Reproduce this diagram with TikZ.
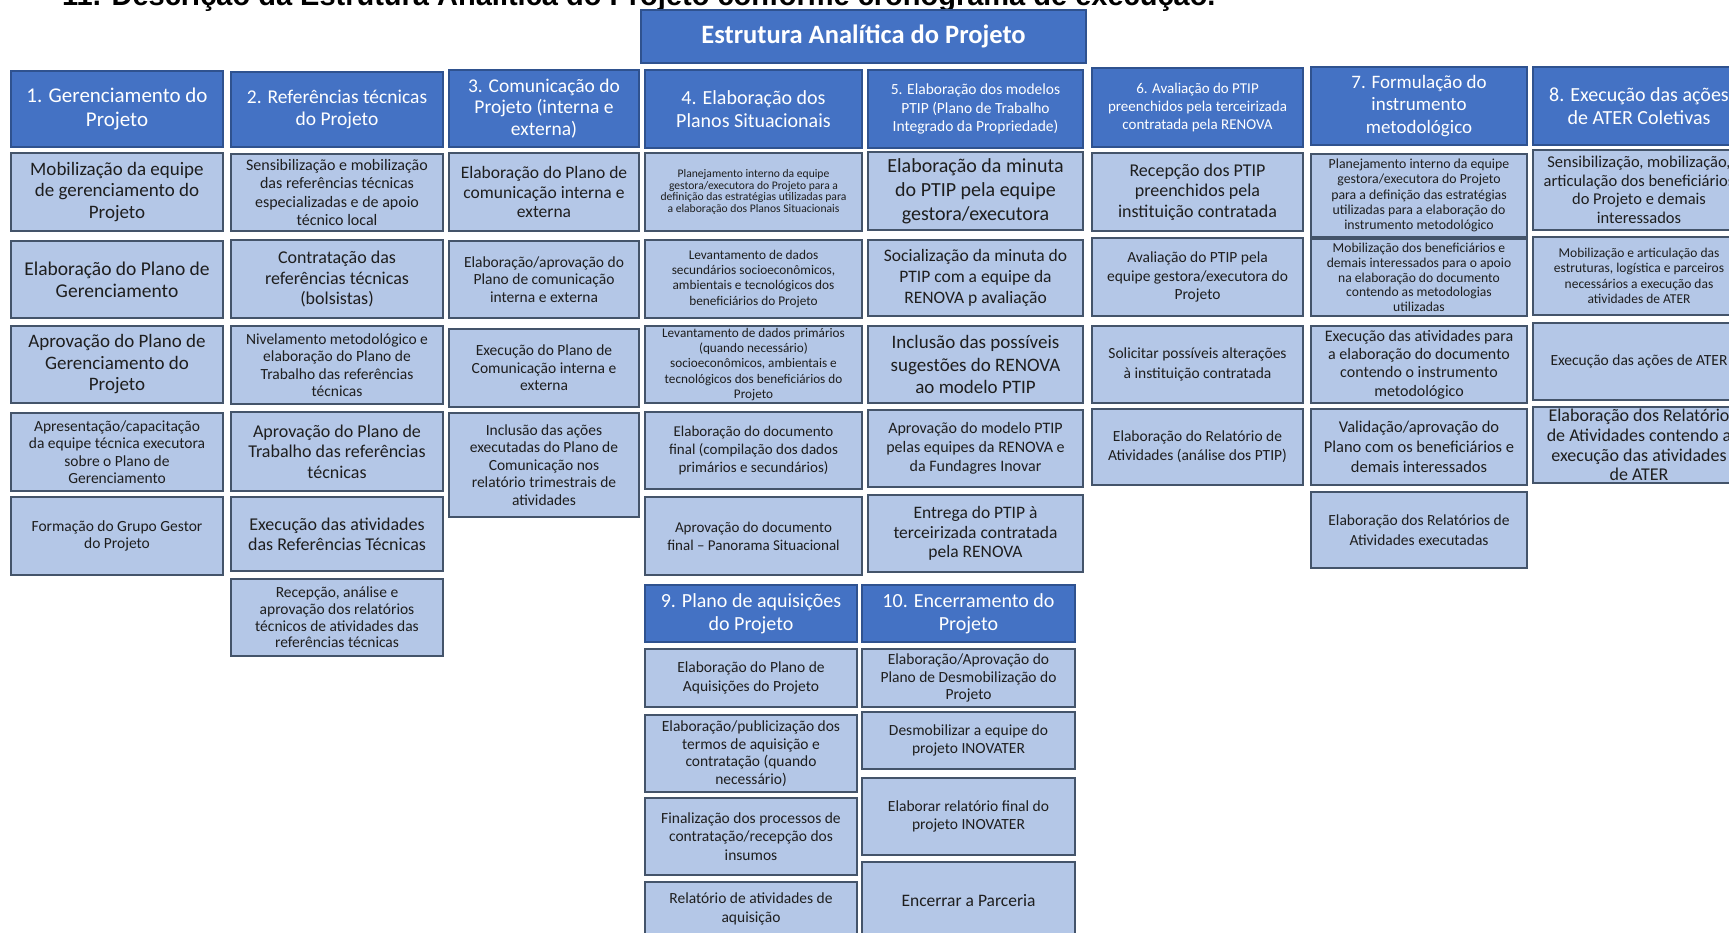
\documentclass[tikz,border=0pt]{standalone}
\usepackage{fontspec}
\setmainfont{Carlito}
\newfontfamily\captionfont{Liberation Sans}
\usepackage{xcolor}
\definecolor{hdrblue}{HTML}{4472C4}
\definecolor{hdredge}{HTML}{2F528F}
\definecolor{taskfill}{HTML}{B4C7E7}
\definecolor{taskedge}{HTML}{44546A}
\definecolor{taskink}{HTML}{1E1E1E}
\tikzstyle{header}=[draw=hdredge, fill=hdrblue, text=white, align=center, inner sep=0pt, line width=1.2pt]
\tikzstyle{task}=[draw=taskedge, fill=taskfill, text=taskink, align=center, inner sep=0pt, line width=1.2pt]
\tikzset{fs/.style={font=\linespread{\eapspread}\fontsize{#1}{#1}\selectfont},
	spread/.code={\def\eapspread{#1}}, spread=1.13}

\begin{document}
\begin{tikzpicture}[x=1pt, y=-1pt]
		\useasboundingbox (0,0) rectangle (1729,933);
		\fill[white] (0,0) rectangle (1729,933);
		\clip (0,0) rectangle (1729,933);
		\node[anchor=base west, inner sep=0pt, font=\captionfont\bfseries\fontsize{29}{29}\selectfont] (topline) at (62,6) {11. Descrição da Estrutura Analítica do Projeto conforme cronograma de execução.};
		\node[header, font=\bfseries\fontsize{26.5}{26.5}\selectfont, minimum width=445, minimum height=53] (eap) at (863.5,36.5) {Estrutura Analítica do Projeto};
		% 1. gerenciamento
		\begin{scope}[every node/.append style={minimum width=212}]
		\node[header, fs=21, minimum height=76] (ger0) at (117,109) {1. Gerenciamento do\\Projeto};
		\node[task, fs=19, minimum height=78] (ger1) at (117,192) {Mobilização da equipe\\de gerenciamento do\\Projeto};
		\node[task, fs=19.5, minimum height=77] (ger2) at (117,279.5) {Elaboração do Plano de\\Gerenciamento};
		\node[task, fs=19, minimum height=77] (ger3) at (117,364.5) {Aprovação do Plano de\\Gerenciamento do\\Projeto};
		\node[task, fs=15.5, minimum height=78] (ger4) at (117,452) {Apresentação/capacitação\\da equipe técnica executora\\sobre o Plano de\\Gerenciamento};
		\node[task, fs=15.5, minimum height=78] (ger5) at (117,536) {Formação do Grupo Gestor\\do Projeto};
		\end{scope}
		% 2. referencias tecnicas
		\begin{scope}[every node/.append style={minimum width=212}]
		\node[header, fs=19.5, minimum height=75] (ref0) at (337,109.5) {2. Referências técnicas\\do Projeto};
		\node[task, fs=16, minimum height=77] (ref1) at (337,192.5) {Sensibilização e mobilização\\das referências técnicas\\especializadas e de apoio\\técnico local};
		\node[task, fs=18, minimum height=78] (ref2) at (337,279) {Contratação das\\referências técnicas\\(bolsistas)};
		\node[task, fs=15.5, minimum height=78] (ref3) at (337,365) {Nivelamento metodológico e\\elaboração do Plano de\\Trabalho das referências\\técnicas};
		\node[task, fs=18, minimum height=79] (ref4) at (337,451.5) {Aprovação do Plano de\\Trabalho das referências\\técnicas};
		\node[task, fs=18, minimum height=74] (ref5) at (337,534) {Execução das atividades\\das Referências Técnicas};
		\node[task, fs=15.5, spread=1.08, minimum height=77] (ref6) at (337,617.5) {Recepção, análise e\\aprovação dos relatórios\\técnicos de atividades das\\referências técnicas};
		\end{scope}
		% 3. comunicacao
		\begin{scope}[every node/.append style={minimum width=190}]
		\node[header, fs=19.5, spread=1.1, minimum height=77] (com0) at (544,108.5) {3. Comunicação do\\Projeto (interna e\\externa)};
		\node[task, fs=17.5, minimum height=78] (com1) at (544,192) {Elaboração do Plano de\\comunicação interna e\\externa};
		\node[task, fs=15.5, minimum height=77] (com2) at (544,279.5) {Elaboração/aprovação do\\Plano de comunicação\\interna e externa};
		\node[task, fs=15.5, minimum height=78] (com3) at (544,368) {Execução do Plano de\\Comunicação interna e\\externa};
		\node[task, fs=15.5, minimum height=104] (com4) at (544,465) {Inclusão das ações\\executadas do Plano de\\Comunicação nos\\relatório trimestrais de\\atividades};
		\end{scope}
		% 4. planos situacionais
		\begin{scope}[every node/.append style={minimum width=217}]
		\node[header, fs=20, minimum height=78] (sit0) at (753.5,109) {4. Elaboração dos\\Planos Situacionais};
		\node[task, fs=11.6, spread=1.0, minimum height=78] (sit1) at (753.5,192) {Planejamento interno da equipe\\gestora/executora do Projeto para a\\definição das estratégias utilizadas para\\a elaboração dos Planos Situacionais};
		\node[task, fs=13.3, minimum height=78] (sit2) at (753.5,279) {Levantamento de dados\\secundários socioeconômicos,\\ambientais e tecnológicos dos\\beneficiários do Projeto};
		\node[task, fs=13.2, spread=1.15, minimum height=77] (sit3) at (753.5,364.5) {Levantamento de dados primários\\(quando necessário)\\socioeconômicos, ambientais e\\tecnológicos dos beneficiários do\\Projeto};
		\node[task, fs=15, spread=1.2, minimum height=77] (sit4) at (753.5,450.5) {Elaboração do documento\\final (compilação dos dados\\primários e secundários)};
		\node[task, fs=15, spread=1.2, minimum height=78] (sit5) at (753.5,536) {Aprovação do documento\\final – Panorama Situacional};
		\end{scope}
		% 5. modelos PTIP
		\begin{scope}[every node/.append style={minimum width=215}]
		\node[header, fs=15.5, spread=1.2, minimum height=78] (ptip0) at (975.5,109) {5. Elaboração dos modelos\\PTIP (Plano de Trabalho\\Integrado da Propriedade)};
		\node[task, fs=20, spread=1.2, minimum height=78] (ptip1) at (975.5,191) {Elaboração da minuta\\do PTIP pela equipe\\gestora/executora};
		\node[task, fs=17.5, spread=1.2, minimum height=76] (ptip2) at (975.5,278) {Socialização da minuta do\\PTIP com a equipe da\\RENOVA p avaliação};
		\node[task, fs=19, spread=1.2, minimum height=77] (ptip3) at (975.5,364.5) {Inclusão das possíveis\\sugestões do RENOVA\\ao modelo PTIP};
		\node[task, fs=16, spread=1.2, minimum height=77] (ptip4) at (975.5,448.5) {Aprovação do modelo PTIP\\pelas equipes da RENOVA e\\da Fundagres Inovar};
		\node[task, fs=17.5, minimum height=77] (ptip5) at (975.5,533.5) {Entrega do PTIP à\\terceirizada contratada\\pela RENOVA};
		\end{scope}
		% 6. avaliacao do PTIP
		\begin{scope}[every node/.append style={minimum width=211}]
		\node[header, fs=15, spread=1.2, minimum height=79] (aval0) at (1197.5,107.5) {6. Avaliação do PTIP\\preenchidos pela terceirizada\\contratada pela RENOVA};
		\node[task, fs=18, minimum height=78] (aval1) at (1197.5,192) {Recepção dos PTIP\\preenchidos pela\\instituição contratada};
		\node[task, fs=15.5, spread=1.2, minimum height=78] (aval2) at (1197.5,277) {Avaliação do PTIP pela\\equipe gestora/executora do\\Projeto};
		\node[task, fs=15.5, spread=1.25, minimum height=77] (aval3) at (1197.5,364.5) {Solicitar possíveis alterações\\à instituição contratada};
		\node[task, fs=15.5, spread=1.25, minimum height=76] (aval4) at (1197.5,447) {Elaboração do Relatório de\\Atividades (análise dos PTIP)};
		\end{scope}
		% 7. instrumento metodologico
		\begin{scope}[every node/.append style={minimum width=216}]
		\node[header, fs=19, spread=1.2, minimum height=78] (met0) at (1419,106) {7. Formulação do\\instrumento\\metodológico};
		\node[task, fs=13.8, spread=1.1, minimum height=83] (met1) at (1419,195.5) {Planejamento interno da equipe\\gestora/executora do Projeto\\para a definição das estratégias\\utilizadas para a elaboração do\\instrumento metodológico};
		\node[task, fs=13.6, spread=1.08, minimum height=77] (met2) at (1419,277.5) {Mobilização dos beneficiários e\\demais interessados para o apoio\\na elaboração do documento\\contendo as metodologias\\utilizadas};
		\node[task, fs=16, spread=1.15, minimum height=77] (met3) at (1419,364.5) {Execução das atividades para\\a elaboração do documento\\contendo o instrumento\\metodológico};
		\node[task, fs=16.5, spread=1.2, minimum height=76] (met4) at (1419,447) {Validação/aprovação do\\Plano com os beneficiários e\\demais interessados};
		\node[task, fs=15.5, spread=1.25, minimum height=76] (met5) at (1419,530) {Elaboração dos Relatórios de\\Atividades executadas};
		\end{scope}
		% 8. ATER coletivas
		\begin{scope}[every node/.append style={minimum width=212}]
		\node[header, fs=20, minimum height=78] (ater0) at (1639,106) {8. Execução das ações\\de ATER Coletivas};
		\node[task, fs=16.5, minimum height=80] (ater1) at (1639,190) {Sensibilização, mobilização,\\articulação dos beneficiários\\do Projeto e demais\\interessados};
		\node[task, fs=13.5, spread=1.15, minimum height=78] (ater2) at (1639,276) {Mobilização e articulação das\\estruturas, logística e parceiros\\necessários a execução das\\atividades de ATER};
		\node[task, fs=15.5, minimum height=77] (ater3) at (1639,361.5) {Execução das ações de ATER};
		\node[task, fs=18, spread=1.1, minimum height=76] (ater4) at (1639,445) {Elaboração dos Relatório\\de Atividades contendo a\\execução das atividades\\de ATER};
		\end{scope}
		% 9. aquisicoes
		\begin{scope}[every node/.append style={minimum width=212}]
		\node[header, fs=20, minimum height=57] (aqu0) at (751,613.5) {9. Plano de aquisições\\do Projeto};
		\node[task, fs=15.5, spread=1.2, minimum height=58] (aqu1) at (751,678) {Elaboração do Plano de\\Aquisições do Projeto};
		\node[task, fs=15.5, minimum height=77] (aqu2) at (751,753.5) {Elaboração/publicização dos\\termos de aquisição e\\contratação (quando\\necessário)};
		\node[task, fs=15.5, spread=1.2, minimum height=77] (aqu3) at (751,836.5) {Finalização dos processos de\\contratação/recepção dos\\insumos};
		\node[task, fs=15.5, spread=1.2, minimum height=54] (aqu4) at (751,909) {Relatório de atividades de\\aquisição};
		\end{scope}
		% 10. encerramento
		\begin{scope}[every node/.append style={minimum width=213}]
		\node[header, fs=20, minimum height=57] (enc0) at (968.5,613.5) {10. Encerramento do\\Projeto};
		\node[task, fs=15.5, minimum height=58] (enc1) at (968.5,678) {Elaboração/Aprovação do\\Plano de Desmobilização do\\Projeto};
		\node[task, fs=15.5, spread=1.2, minimum height=57] (enc2) at (968.5,740.5) {Desmobilizar a equipe do\\projeto INOVATER};
		\node[task, fs=15.5, spread=1.2, minimum height=77] (enc3) at (968.5,816.5) {Elaborar relatório final do\\projeto INOVATER};
		\node[task, fs=17.5, minimum height=78] (enc4) at (968.5,901) {Encerrar a Parceria};
		\end{scope}
	\end{tikzpicture}
\end{document}
